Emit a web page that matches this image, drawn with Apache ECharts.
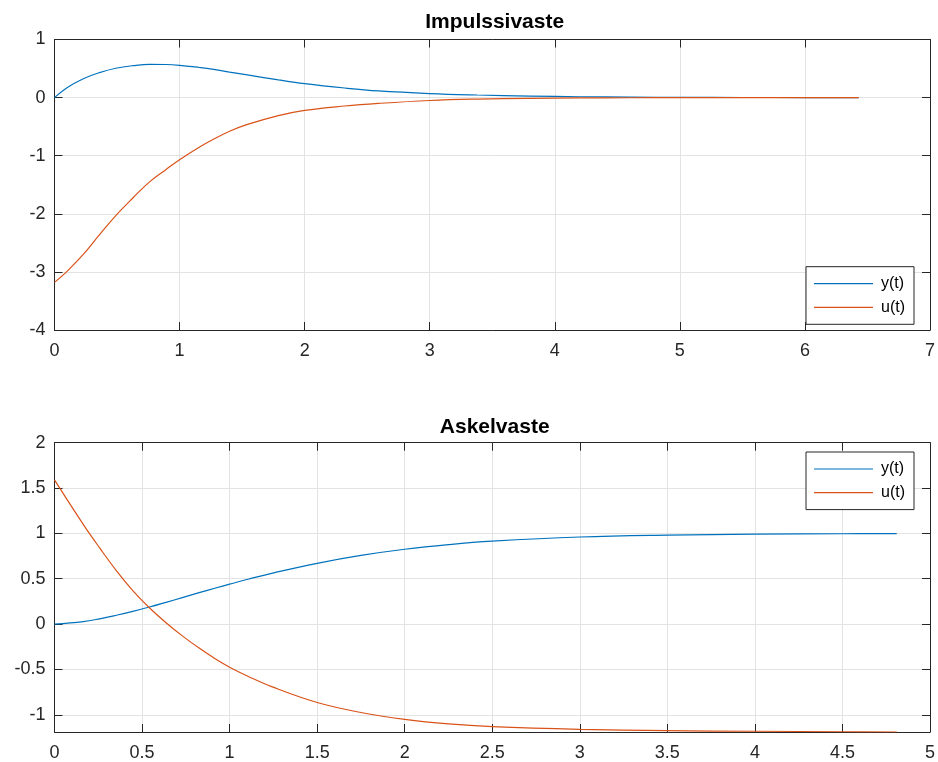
<!DOCTYPE html>
<html>
<head>
<meta charset="utf-8">
<script src="https://cdn.jsdelivr.net/npm/echarts@6/dist/echarts.min.js"></script>
<style>
html,body{margin:0;padding:0;background:#fff;}
#chart{width:938px;height:762px;}
</style>
</head>
<body>
<div id="chart"></div>
<script>
// ---- Data: Impulssivaste ----
var tImp = [0,0.1,0.23,0.36,0.49,0.63,0.76,0.89,1.0,1.16,1.26,1.4,1.53,1.79,2.0,2.32,2.59,3.0,3.38,3.8,4.2,4.6,5.0,5.5,6.0,6.43];
var yImp = [0,0.17,0.325,0.43,0.505,0.55,0.572,0.57,0.556,0.518,0.49,0.44,0.395,0.305,0.24,0.165,0.115,0.07,0.045,0.026,0.015,0.008,0.004,0.002,0.001,0];
var uImp = [-3.18,-2.99,-2.70,-2.36,-2.03,-1.72,-1.45,-1.24,-1.07,-0.85,-0.73,-0.58,-0.47,-0.31,-0.22,-0.145,-0.10,-0.05,-0.026,-0.013,-0.006,-0.003,-0.001,0,0,0];

// ---- Data: Askelvaste ----
var tStep = [0,0.164,0.258,0.353,0.447,0.542,0.637,0.73,0.826,0.92,1.0,1.11,1.24,1.5,1.75,2.0,2.25,2.5,3.0,3.5,4.0,4.5,4.81];
var yStep = [0,0.027,0.058,0.097,0.14,0.188,0.24,0.292,0.346,0.398,0.44,0.497,0.56,0.67,0.757,0.825,0.876,0.914,0.96,0.981,0.991,0.996,0.998];
var uStep = [1.59,1.10,0.84,0.59,0.37,0.18,0.015,-0.13,-0.265,-0.385,-0.475,-0.58,-0.69,-0.865,-0.975,-1.05,-1.10,-1.13,-1.16,-1.175,-1.182,-1.187,-1.19];

// ---- Axis tick labels ----
var impXTicks = [0,1,2,3,4,5,6,7];
var impYTicks = [-4,-3,-2,-1,0,1];
var stepXTicks = [0,0.5,1,1.5,2,2.5,3,3.5,4,4.5,5];
var stepYTicks = [-1,-0.5,0,0.5,1,1.5,2];
var stepYMin = -1.19;

var titles = ['Impulssivaste','Askelvaste'];
var names = ['y(t)','u(t)'];

function pairs(t, v){ return t.map(function(x,i){ return [x, v[i]]; }); }

var FONT = 'Liberation Sans, Arial, Helvetica, sans-serif';
var AX = '#262626';
var GRIDC = '#e3e3e3';
var BLUE = '#0072BD', ORANGE = '#D95319';
var LEGEND_ICON = 'path://M0,0H59V1.2H0Z';

function xAx(gi, min, max, interval, pos, labels){
  return {
    type:'value', gridIndex:gi, min:min, max:max, interval:interval, position:pos,
    axisLine:{show:true, onZero:false, lineStyle:{color:AX, width:1}},
    axisTick:{show:true, inside:true, length:8, lineStyle:{color:AX}},
    splitLine:{show:pos==='bottom', lineStyle:{color:GRIDC, width:1}},
    axisLabel:{show:labels, color:AX, fontSize:18, fontFamily:FONT, margin:12,
      formatter:function(v){ return String(v); }}
  };
}
function yAx(gi, min, max, pos, labels, ticks){
  return {
    type:'value', gridIndex:gi, min:min, max:max, position:pos,
    axisLine:{show:true, onZero:false, lineStyle:{color:AX, width:1}},
    axisTick:{show:true, inside:true, length:8, lineStyle:{color:AX}, customValues:ticks},
    splitLine:{show:pos==='left', lineStyle:{color:GRIDC, width:1}},
    axisLabel:{show:labels, color:AX, fontSize:18, fontFamily:FONT, margin:9, customValues:ticks,
      formatter:function(v){ return String(v); }}
  };
}
function legendAt(top){
  return {data:names.map(function(n){ return {name:n, icon:LEGEND_ICON}; }),
    orient:'vertical', left:806, top:top, itemWidth:59, itemHeight:14, itemGap:7.6,
    symbolKeepAspect:true,
    padding:[9,9,9,8], borderColor:AX, borderWidth:1, backgroundColor:'#fff',
    textStyle:{fontSize:16, fontFamily:FONT, color:'#000', padding:[0,0,0,3]}, selectedMode:false};
}

var chart = echarts.init(document.getElementById('chart'), null, {renderer:'canvas'});
var option = {
  backgroundColor:'#ffffff',
  animation:false,
  grid:[
    {left:54.5, top:39.5, width:880.5, height:290.5, show:false},
    {left:54.5, top:442.7, width:880.5, height:290.3, show:false}
  ],
  xAxis:[
    xAx(0, impXTicks[0], impXTicks[impXTicks.length-1], 1, 'bottom', true),
    xAx(0, impXTicks[0], impXTicks[impXTicks.length-1], 1, 'top', false),
    xAx(1, stepXTicks[0], stepXTicks[stepXTicks.length-1], 0.5, 'bottom', true),
    xAx(1, stepXTicks[0], stepXTicks[stepXTicks.length-1], 0.5, 'top', false)
  ],
  yAxis:[
    yAx(0, impYTicks[0], impYTicks[impYTicks.length-1], 'left', true, impYTicks),
    yAx(0, impYTicks[0], impYTicks[impYTicks.length-1], 'right', false, impYTicks),
    yAx(1, stepYMin, stepYTicks[stepYTicks.length-1], 'left', true, stepYTicks),
    yAx(1, stepYMin, stepYTicks[stepYTicks.length-1], 'right', false, stepYTicks)
  ],
  legend:[ legendAt(266.7), legendAt(452) ],
  graphic:[
    {type:'text', x:494.7, y:22.5, style:{text:titles[0], textAlign:'center', textVerticalAlign:'middle', font:'bold 21px '+FONT, fill:'#000'}},
    {type:'text', x:494.7, y:427, style:{text:titles[1], textAlign:'center', textVerticalAlign:'middle', font:'bold 21px '+FONT, fill:'#000'}}
  ],
  series:[
    {name:names[0], type:'line', xAxisIndex:0, yAxisIndex:0, data:pairs(tImp,yImp), symbol:'none', smooth:0.4, lineStyle:{color:BLUE, width:1.2}, itemStyle:{color:BLUE}},
    {name:names[1], type:'line', xAxisIndex:0, yAxisIndex:0, data:pairs(tImp,uImp), symbol:'none', smooth:0.4, lineStyle:{color:ORANGE, width:1.2}, itemStyle:{color:ORANGE}},
    {name:names[0], type:'line', xAxisIndex:2, yAxisIndex:2, data:pairs(tStep,yStep), symbol:'none', smooth:0.4, lineStyle:{color:BLUE, width:1.2}, itemStyle:{color:BLUE}},
    {name:names[1], type:'line', xAxisIndex:2, yAxisIndex:2, data:pairs(tStep,uStep), symbol:'none', smooth:0.4, lineStyle:{color:ORANGE, width:1.2}, itemStyle:{color:ORANGE}}
  ]
};
chart.setOption(option);
</script>
</body>
</html>
